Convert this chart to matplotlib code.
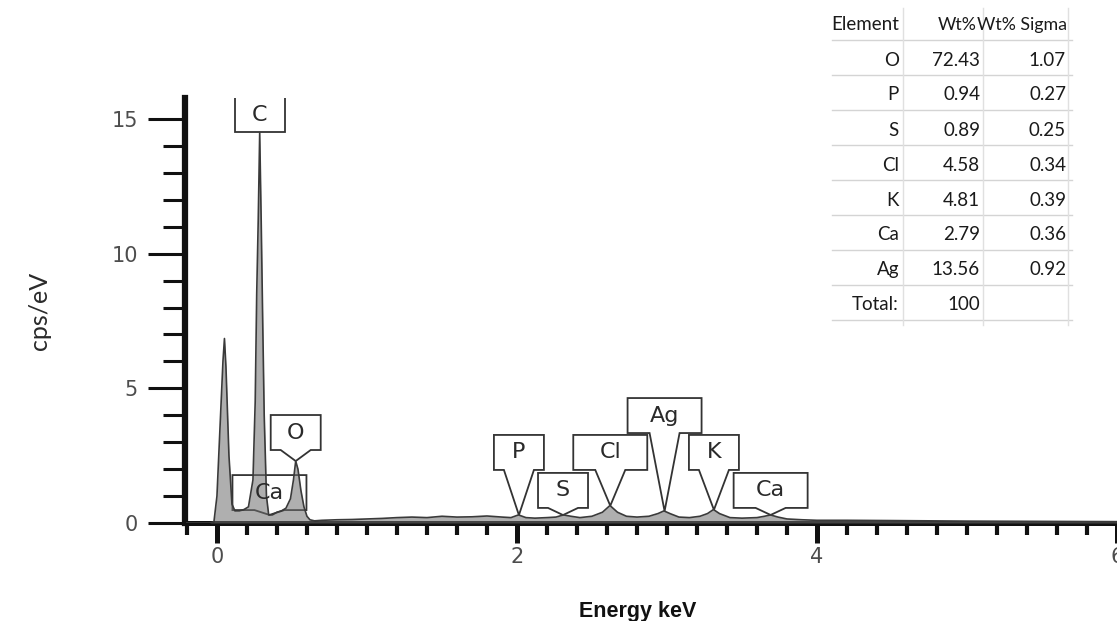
import matplotlib
matplotlib.use("Agg")
import matplotlib.pyplot as plt
from matplotlib.patches import Polygon
from matplotlib.ticker import MultipleLocator
import numpy as np

# EDS spectrum (energy in keV, intensity in cps/eV)
energy = [-0.2, -0.05, -0.02, 0.0, 0.02, 0.04, 0.05, 0.06, 0.08, 0.10, 0.12,
          0.15, 0.18, 0.21, 0.24, 0.255, 0.265, 0.275, 0.285, 0.295, 0.305,
          0.315, 0.33, 0.345, 0.37, 0.40, 0.43, 0.46, 0.49, 0.51, 0.525, 0.54,
          0.56, 0.58, 0.60, 0.62, 0.65, 0.7, 0.8, 0.9, 1.0, 1.1, 1.2, 1.3, 1.4,
          1.5, 1.6, 1.7, 1.8, 1.9, 1.96, 2.01, 2.06, 2.12, 2.2, 2.26, 2.31,
          2.36, 2.42, 2.5, 2.57, 2.62, 2.67, 2.73, 2.8, 2.88, 2.94, 2.98, 3.02,
          3.08, 3.15, 3.22, 3.27, 3.31, 3.35, 3.42, 3.5, 3.6, 3.65, 3.69, 3.74,
          3.8, 3.9, 4.0, 4.2, 4.5, 5.0, 5.5, 6.0]
counts = [0.0, 0.0, 0.05, 1.0, 3.5, 6.0, 6.85, 5.8, 2.5, 0.7, 0.45,
          0.45, 0.5, 0.6, 1.6, 4.5, 8.5, 11.2, 14.5, 11.2, 7.5,
          4.0, 1.0, 0.3, 0.3, 0.4, 0.45, 0.55, 0.9, 1.6, 2.3, 2.0,
          1.2, 0.6, 0.25, 0.12, 0.08, 0.1, 0.12, 0.13, 0.15, 0.17, 0.2, 0.22, 0.2,
          0.25, 0.22, 0.23, 0.26, 0.22, 0.2, 0.3, 0.2, 0.18, 0.2, 0.22, 0.3,
          0.25, 0.2, 0.25, 0.4, 0.65, 0.4, 0.25, 0.22, 0.25, 0.35, 0.45, 0.35,
          0.22, 0.2, 0.25, 0.35, 0.5, 0.35, 0.2, 0.18, 0.2, 0.25, 0.3, 0.22,
          0.15, 0.12, 0.1, 0.1, 0.09, 0.07, 0.06, 0.05]

# peak identifications
peak_names = ['C', 'O', 'Ca', 'P', 'S', 'Cl', 'Ag', 'K', 'Ca']
peak_energy = [0.285, 0.525, 0.35, 2.013, 2.307, 2.622, 2.984, 3.313, 3.691]
# height of each label box's lower edge (cps/eV)
box_level = [14.5, 2.71, 0.48, 1.97, 0.56, 1.97, 3.34, 1.97, 0.56]

# quantification table
elements = ['O', 'P', 'S', 'Cl', 'K', 'Ca', 'Ag']
wt_pct = [72.43, 0.94, 0.89, 4.58, 4.81, 2.79, 13.56]
wt_sigma = [1.07, 0.27, 0.25, 0.34, 0.39, 0.36, 0.92]

W, H = 1117, 621
fig = plt.figure(figsize=(W / 100, H / 100), dpi=100)
ax = fig.add_axes([185 / W, 98 / H, (W - 185) / W, (523 - 98) / H])
ax.set_xlim(-0.213, 6.0)
ax.set_ylim(0, 15.78)

# spectrum
ax.fill_between(energy, counts, 0, color='#6e6e6e', alpha=0.55, lw=0, zorder=3)
ax.plot(energy, counts, color='#3a3a3a', lw=1.2, zorder=4)

# pixel -> data scale factors
kx = (6.0 + 0.213) / (W - 185)
ky = 15.78 / (523 - 98)
box_h = 35 * ky
half_tip = 15 * kx

for name, e, lvl in zip(peak_names, peak_energy, box_level):
    tip = np.interp(e, energy, counts)
    half_w = (25 if len(name) == 1 else 37) * kx
    xl, xr = e - half_w, e + half_w
    if lvl - tip > 0.05:
        verts = [(xl, lvl), (e - half_tip, lvl), (e, tip), (e + half_tip, lvl),
                 (xr, lvl), (xr, lvl + box_h), (xl, lvl + box_h)]
    else:
        verts = [(xl, lvl), (xr, lvl), (xr, lvl + box_h), (xl, lvl + box_h)]
    ax.add_patch(Polygon(verts, closed=True, facecolor='white',
                         edgecolor='#333333', lw=1.3, zorder=2))
    ax.text(e, lvl + box_h / 2, name, ha='center', va='center',
            fontsize=16, color='#2a2a2a', family='DejaVu Sans', zorder=5)

# axes styling
for side in ['top', 'right']:
    ax.spines[side].set_visible(False)
ax.spines['bottom'].set_linewidth(3.6)
ax.spines['left'].set_linewidth(4.5)
ax.spines['bottom'].set_color('#111111')
ax.spines['left'].set_color('#111111')

ax.xaxis.set_major_locator(MultipleLocator(2))
ax.xaxis.set_minor_locator(MultipleLocator(0.2))
ax.yaxis.set_major_locator(MultipleLocator(5))
ax.yaxis.set_minor_locator(MultipleLocator(1))

ax.tick_params(axis='x', which='major', direction='out', length=14.4, width=3.6,
               color='#111111', pad=3, labelsize=15, labelcolor='#4d4d4d')
ax.tick_params(axis='x', which='minor', direction='out', length=8.6, width=3.0,
               color='#111111')
ax.tick_params(axis='y', which='major', direction='out', length=27, width=2.2,
               color='#111111', pad=7, labelsize=15, labelcolor='#4d4d4d')
ax.tick_params(axis='y', which='minor', direction='out', length=16, width=2.2,
               color='#111111')
for lab in ax.get_xticklabels() + ax.get_yticklabels():
    lab.set_family('DejaVu Sans')

narrow = ['Lato', 'DejaVu Sans']
fig.text(40 / W, 1 - 311 / H, 'cps/eV', rotation=90, ha='center', va='center',
         fontsize=18, color='#2a2a2a', family=narrow)
fig.text(638 / W, 4 / H, 'Energy keV', ha='center', va='baseline',
         fontsize=15.5, fontweight='bold', color='#111111',
         family=['Liberation Sans', 'DejaVu Sans'])

# table of weight percentages
rows = [('Element', 'Wt%', 'Wt% Sigma')]
rows += [(el, f'{w:.2f}', f'{s:.2f}') for el, w, s in zip(elements, wt_pct, wt_sigma)]
rows.append(('Total:', f'{sum(wt_pct):.0f}', ''))
col_right = [899, 980, 1066]
for i, row in enumerate(rows):
    yc = 25 + 35 * i
    for j, (txt, xr) in enumerate(zip(row, col_right)):
        size = 13.5
        if i == 0 and j > 0:
            # header cells are tight against each other
            size = 12.8
            xr = xr - 3 if j == 1 else xr + 1
        fig.text(xr / W, 1 - yc / H, txt, ha='right', va='center',
                 fontsize=size, color='#1a1a1a', family=narrow)
    yl = 1 - (40 + 35 * i) / H
    fig.add_artist(plt.Line2D([832 / W, 1072 / W], [yl, yl], color='#d4d4d4', lw=1))
for xv in [903, 983, 1068]:
    fig.add_artist(plt.Line2D([xv / W, xv / W], [1 - 8 / H, 1 - 325 / H],
                              color='#e0e0e0', lw=1))

fig.savefig('out.png', dpi=100)
